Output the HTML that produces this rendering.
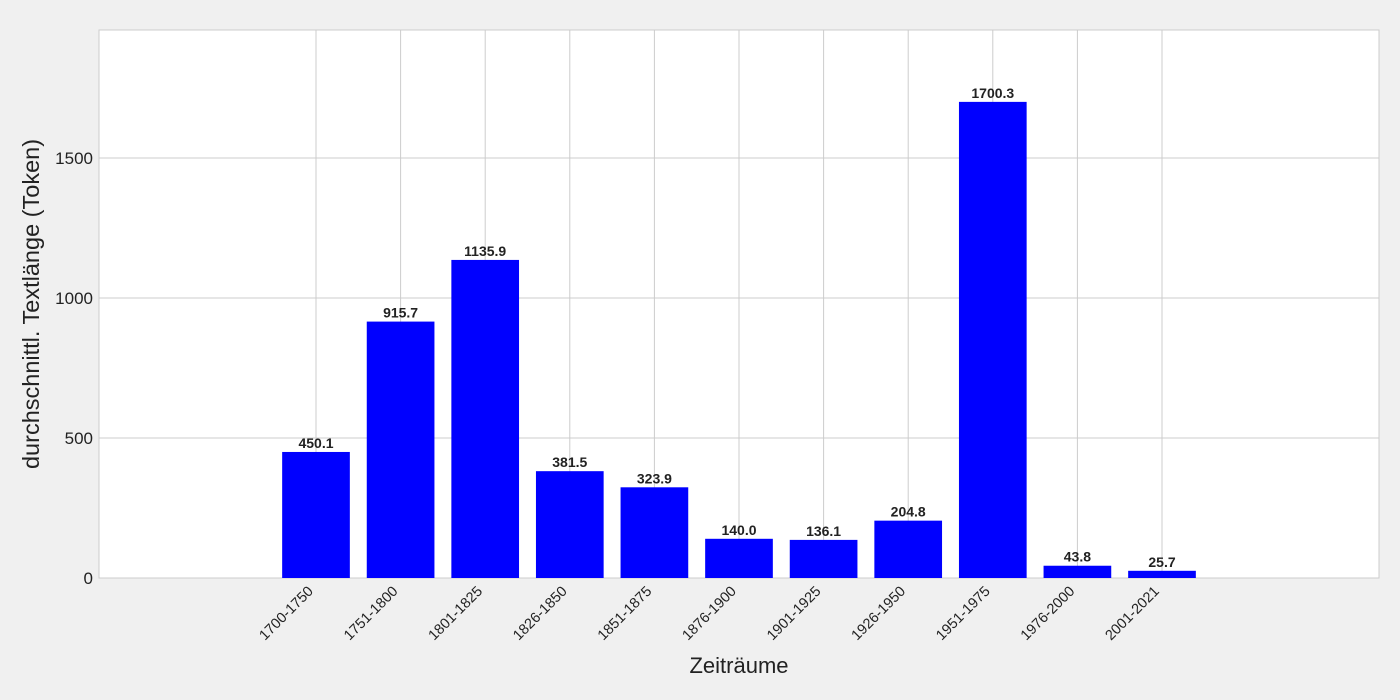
<!DOCTYPE html>
<html><head><meta charset="utf-8"><style>
body{margin:0;background:#f0f0f0;}
svg{display:block;font-family:"Liberation Sans",Arial,sans-serif;}
</style></head><body>
<svg id="chart" width="1400" height="700">
<rect x="0" y="0" width="1400" height="700" fill="#f0f0f0"/>
<rect x="99" y="30" width="1280" height="548" fill="#ffffff" stroke="#cccccc"/>
<g id="grid"></g><g id="bars"></g><g id="labels"></g>
<text x="739" y="673" text-anchor="middle" font-size="22" fill="#222">Zeiträume</text>
<text transform="translate(39,304) rotate(-90)" text-anchor="middle" font-size="23.5" fill="#222">durchschnittl. Textlänge (Token)</text>
</svg>
<script>
const categories=["1700-1750","1751-1800","1801-1825","1826-1850","1851-1875","1876-1900","1901-1925","1926-1950","1951-1975","1976-2000","2001-2021"];
const values=[450.1,915.7,1135.9,381.5,323.9,140.0,136.1,204.8,1700.3,43.8,25.7];
const yTicks=[0,500,1000,1500];
const NS="http://www.w3.org/2000/svg";
const L=99,R=1379,T=30,B=578;
const xMin=-2.565,xMax=12.565,yMax=1957;
const xs=i=>L+(i-xMin)/(xMax-xMin)*(R-L);
const ys=v=>B-v/yMax*(B-T);
const step=xs(1)-xs(0),bw=step*0.8;
function mk(tag,attrs,parent,text){const e=document.createElementNS(NS,tag);for(const k in attrs)e.setAttribute(k,attrs[k]);if(text!==undefined)e.textContent=text;parent.appendChild(e);return e;}
const grid=document.getElementById('grid'),bars=document.getElementById('bars'),labels=document.getElementById('labels');
yTicks.forEach(t=>{
 const y=ys(t);
 const l=mk('line',{x1:L,x2:R,y1:y,y2:y,stroke:'#cccccc','stroke-width':1},grid);
 
 
 const tx=mk('text',{x:L-6,y:y+6,'text-anchor':'end','font-size':17,fill:'#222'},labels,String(t));
 
 
});
categories.forEach((c,i)=>{
 const x=xs(i);
 const l=mk('line',{x1:x,x2:x,y1:T,y2:B,stroke:'#cccccc','stroke-width':1},grid);
 
 
 const r=mk('rect',{x:x-bw/2,y:ys(values[i]),width:bw,height:B-ys(values[i]),fill:'#0000ff'},bars);
 
 
 const v=mk('text',{x:x,y:ys(values[i])-4,'text-anchor':'middle','font-size':14,'font-weight':'bold',fill:'#222'},labels,values[i].toFixed(1));
 
 
 const tl=mk('text',{transform:`translate(${x-2},${B+14}) rotate(-45)`,'text-anchor':'end','font-size':14.5,fill:'#222'},labels,c);
 
 
});
</script>
</body></html>
